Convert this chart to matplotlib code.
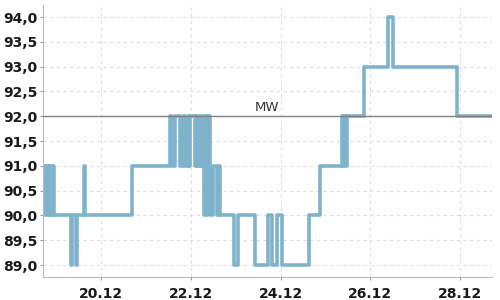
import matplotlib
matplotlib.use("Agg")
import matplotlib.pyplot as plt
import matplotlib.dates as mdates
import pandas as pd

# Kursverlauf (Zeitpunkt der Änderung, neuer Wert)
zeiten = [
    "2023-12-18 17:00", "2023-12-18 17:48", "2023-12-18 18:20", "2023-12-18 19:06",
    "2023-12-18 19:40", "2023-12-18 20:30", "2023-12-18 21:00", "2023-12-18 21:48",
    "2023-12-18 22:20", "2023-12-18 23:06",
    "2023-12-19 07:52", "2023-12-19 08:40", "2023-12-19 10:32", "2023-12-19 11:04",
    "2023-12-19 14:55", "2023-12-19 15:27",
    "2023-12-20 16:34",
    "2023-12-21 13:08", "2023-12-21 14:12", "2023-12-21 15:49", "2023-12-21 18:13",
    "2023-12-21 20:06", "2023-12-21 21:10", "2023-12-21 22:30", "2023-12-21 23:18",
    "2023-12-21 23:50",
    "2023-12-22 02:00", "2023-12-22 02:47", "2023-12-22 03:35", "2023-12-22 04:23",
    "2023-12-22 05:11", "2023-12-22 06:00", "2023-12-22 06:47", "2023-12-22 07:19",
    "2023-12-22 07:51", "2023-12-22 08:39", "2023-12-22 09:11", "2023-12-22 10:00",
    "2023-12-22 11:04", "2023-12-22 12:08", "2023-12-22 14:16", "2023-12-22 15:04",
    "2023-12-22 15:52", "2023-12-22 23:21",
    "2023-12-23 01:13", "2023-12-23 10:35", "2023-12-23 17:16", "2023-12-23 19:40",
    "2023-12-23 22:20",
    "2023-12-24 00:29", "2023-12-24 15:10", "2023-12-24 21:03",
    "2023-12-25 08:49", "2023-12-25 09:37", "2023-12-25 10:09", "2023-12-25 10:57",
    "2023-12-25 11:29", "2023-12-25 20:50",
    "2023-12-26 09:40", "2023-12-26 12:20",
    "2023-12-27 22:17",
    "2023-12-28 17:00",
]
werte = [
    91, 90, 91, 90, 91, 90, 91, 90, 91, 90,
    89, 90, 89, 90, 91, 90,
    91,
    92, 91, 92, 91, 92, 91, 92, 91, 92,
    91, 92, 91, 92, 91, 92, 91, 90, 92, 90, 92, 91, 90, 91, 90, 91, 90, 89,
    90, 89, 90, 89, 90,
    89, 90, 91,
    92, 91, 92, 91, 92, 93,
    94, 93,
    92,
    92,
]
mittelwert = 92.0
y_ticks = [89.0, 89.5, 90.0, 90.5, 91.0, 91.5, 92.0, 92.5, 93.0, 93.5, 94.0]

zeit = pd.to_datetime(zeiten)

fig = plt.figure(figsize=(5, 3), dpi=100)
ax = fig.add_axes([0.086, 0.0767, 0.898, 0.9063])

ax.plot(zeit, werte, drawstyle="steps-post", color="#7eb3cb", lw=2.6, zorder=2)
ax.axhline(mittelwert, color="#808080", lw=1, zorder=3)
ax.text(pd.Timestamp("2023-12-23 16:30"), mittelwert + 0.05, "MW",
        ha="center", va="bottom", fontsize=9.5, color="#333333", zorder=4)

ax.set_xlim(pd.Timestamp("2023-12-18 17:00"), pd.Timestamp("2023-12-28 17:00"))
ax.set_ylim(88.76, 94.24)
ax.set_yticks(y_ticks)
ax.set_yticklabels([f"{v:.1f}".replace(".", ",") for v in y_ticks])
ax.xaxis.set_major_locator(mdates.DayLocator(bymonthday=[20, 22, 24, 26, 28]))
ax.xaxis.set_major_formatter(mdates.DateFormatter("%d.%m"))

ax.grid(True, color="#dddddd", linestyle=(0, (3, 3)), lw=0.8)
ax.set_axisbelow(True)
for s in ["top", "right"]:
    ax.spines[s].set_visible(False)
for s in ["left", "bottom"]:
    ax.spines[s].set_color("#bbbbbb")
ax.tick_params(length=2, color="#999999", labelsize=10, labelcolor="#1a1a1a", pad=2)
ax.tick_params(axis="x", pad=5)
for lbl in ax.get_xticklabels() + ax.get_yticklabels():
    lbl.set_fontweight("bold")

fig.savefig("out.png", dpi=100)
